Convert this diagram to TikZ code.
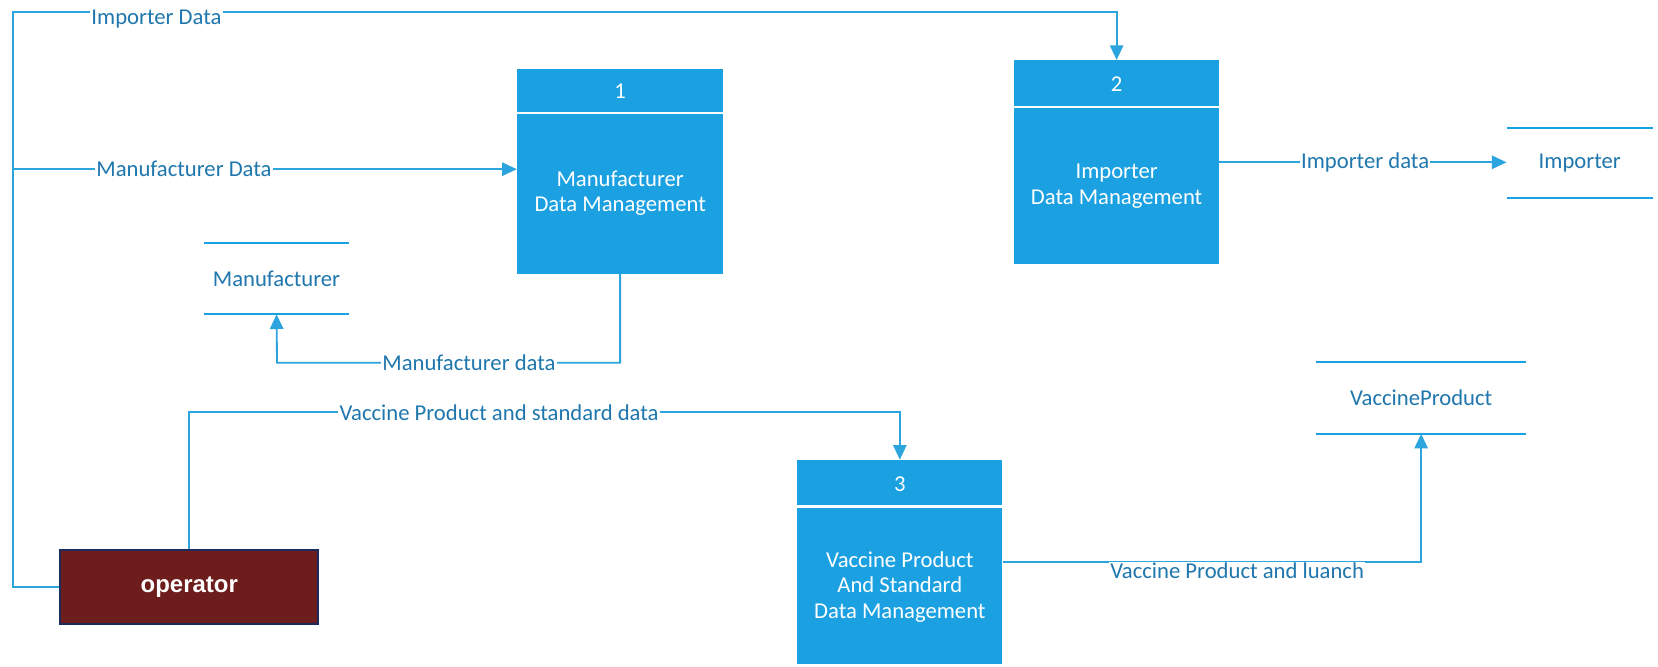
\documentclass[tikz,border=0pt]{standalone}
\usepackage{fontspec}
\setmainfont{Carlito}
\newfontfamily\opfont{Liberation Sans}
\usetikzlibrary{arrows.meta}
\definecolor{procblue}{HTML}{1BA1E2}
\definecolor{flowblue}{HTML}{2CA5DF}
\definecolor{labelblue}{HTML}{1F77AE}
\definecolor{opred}{HTML}{6E1D1D}
\definecolor{opborder}{HTML}{1C2B5C}
\def\u{0.793pt}
\begin{document}
\begin{tikzpicture}[x=0.793pt,y=-0.793pt,
  proc/.style={fill=procblue, draw=none, inner sep=0pt},
  proctext/.style={text=white, align=center, inner sep=0pt, font=\fontsize{17}{19}\selectfont},
  divider/.style={draw=white, line width=1.6pt},
  store/.style={draw=none, inner sep=0pt, text=labelblue, font=\fontsize{17}{20}\selectfont},
  storeline/.style={draw=procblue, line width=1.5pt},
  flow/.style={draw=flowblue, line width=1.4pt},
  arr/.style={flow, -{Triangle[length=11pt,width=10pt]}},
  lab/.style={fill=white, text=labelblue, inner sep=1pt, font=\fontsize{17}{20}\selectfont},
  opbox/.style={fill=opred, draw=opborder, line width=1.2pt, text=white, font=\opfont\bfseries\fontsize{18}{20}\selectfont}
]
\clip (0,0) rectangle (1568,630);
\fill[white] (0,0) rectangle (1568,630);

% process boxes
\node[proc, minimum width=195*\u, minimum height=194*\u] (p1) at (586.5,162) {};
\node[proc, minimum width=194*\u, minimum height=193*\u] (p2) at (1056,153.5) {};
\node[proc, minimum width=194*\u, minimum height=193*\u] (p3) at (851,531.5) {};
\draw[divider] (p1.west |- 0,107) -- (p1.east |- 0,107);
\draw[divider] (p2.west |- 0,101) -- (p2.east |- 0,101);
\draw[divider] (p3.west |- 0,479) -- (p3.east |- 0,479);
\node[proctext] (p1n) at (586.5,86) {1};
\node[proctext] (p2n) at (1056,80) {2};
\node[proctext] (p3n) at (851,458) {3};
\node[proctext] (p1t) at (586.5,183) {Manufacturer\\Data Management};
\node[proctext] (p2t) at (1056,176) {Importer\\Data Management};
\node[proctext] (p3t) at (851,555) {Vaccine Product\\And Standard\\Data Management};

% data stores
\node[store, minimum width=137*\u, minimum height=67*\u] (ms) at (261.5,263.5) {Manufacturer};
\node[store, minimum width=138*\u, minimum height=66*\u] (is) at (1494,154) {Importer};
\node[store, minimum width=198*\u, minimum height=67*\u] (vs) at (1344,376.5) {VaccineProduct};
\foreach \s in {ms,is,vs}{
  \draw[storeline] (\s.north west) -- (\s.north east);
  \draw[storeline] (\s.south west) -- (\s.south east);
}

% operator
\node[opbox, minimum width=244*\u, minimum height=70*\u] (op) at (179,555) {operator};

% corner coordinates
\coordinate (cTL) at (12,11);
\coordinate (cML) at (12,160);
\coordinate (cMB) at (262,343);
\coordinate (cVT) at (179,390);
\coordinate (cVR) at (1343,533);

% connectors
\draw[arr] (op.west) -| (cTL) -| (p2.north);
\draw[arr] (cML) -- (cML -| p1.west);
\draw[arr] (p1.south) |- (cMB) -- (ms.south);
\draw[arr] (p2.east) -- (p2.east -| is.west);
\draw[arr] (op.north) |- (cVT) -| (p3.north);
\draw[arr] (p3.east) -| (vs.south);

% labels
\node[lab] (l1) at (148,18) {Importer Data};
\node[lab] (l2) at (174,160) {Manufacturer Data};
\node[lab] (l3) at (443.5,343) {Manufacturer data};
\node[lab] (l4) at (1291,154) {Importer data};
\node[lab] (l5) at (472,390) {Vaccine Product and standard data};
\node[lab] (l6) at (1170,540) {Vaccine Product and luanch};
\end{tikzpicture}
\end{document}
